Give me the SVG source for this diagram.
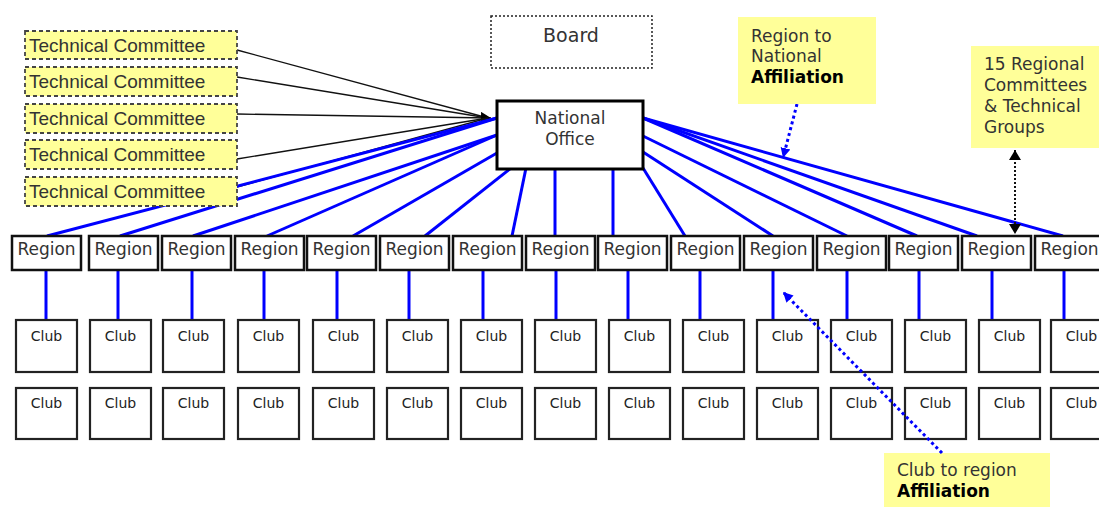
<svg xmlns="http://www.w3.org/2000/svg" width="1099" height="507" viewBox="0 0 1099 507">
<style>
.f{font-family:"DejaVu Sans",Verdana,sans-serif;fill:#333}
.tc rect{fill:#ffff99;stroke:#444;stroke-width:1.8;stroke-dasharray:4,3}
.tc text{font-family:"Liberation Sans",Arial,sans-serif;font-size:19px;fill:#333}
.reg rect{fill:#fff;stroke:#111;stroke-width:2.5}
.reg text{font-size:17px;text-anchor:middle}
.club rect{fill:#fff;stroke:#222;stroke-width:2.2}
.club text{font-size:14px;text-anchor:middle;fill:#222}
.note rect{fill:#ffff99;stroke:none}
.note text{font-size:17px}
.b{stroke:#0000ff;stroke-width:3;fill:none}
.k{stroke:#111;stroke-width:1.3;fill:none}
</style>
<defs>
<marker id="ak" markerUnits="userSpaceOnUse" markerWidth="12" markerHeight="12" refX="10" refY="6" orient="auto-start-reverse"><path d="M0,0 L10,6 L0,12 z" fill="#000"/></marker>
<marker id="ab" markerUnits="userSpaceOnUse" markerWidth="12" markerHeight="12" refX="10" refY="6" orient="auto-start-reverse"><path d="M0,1 L10,6 L0,11 z" fill="#0000ff"/></marker>
</defs>
<rect width="1099" height="507" fill="#fff"/>
<g id="connectors">
<line class="k" x1="237" y1="50" x2="488" y2="118"/>
<line class="k" x1="237" y1="77" x2="488" y2="118"/>
<line class="k" x1="237" y1="114" x2="491" y2="118" marker-end="url(#ak)"/>
<line class="k" x1="237" y1="159" x2="488" y2="118"/>
<line class="k" x1="237" y1="187" x2="488" y2="118"/>
<line class="b" x1="497" y1="118" x2="47" y2="236"/>
<line class="b" x1="497" y1="118" x2="120" y2="236"/>
<line class="b" x1="497" y1="135" x2="193" y2="236"/>
<line class="b" x1="497" y1="135" x2="267" y2="236"/>
<line class="b" x1="497" y1="153" x2="353" y2="236"/>
<line class="b" x1="511" y1="168" x2="425" y2="236"/>
<line class="b" x1="526" y1="168" x2="512" y2="236"/>
<line class="b" x1="555" y1="168" x2="555" y2="236"/>
<line class="b" x1="613" y1="168" x2="613" y2="236" stroke-width="3.5"/>
<line class="b" x1="643" y1="168" x2="685" y2="236"/>
<line class="b" x1="643" y1="152" x2="773" y2="236"/>
<line class="b" x1="643" y1="136" x2="847" y2="236"/>
<line class="b" x1="643" y1="118" x2="917" y2="236" stroke="#4a4aee"/>
<line class="b" x1="643" y1="118" x2="977" y2="236"/>
<line class="b" x1="643" y1="118" x2="1063" y2="236"/>
<line class="b" x1="46" y1="270" x2="46" y2="320" stroke-width="4.5"/>
<line class="b" x1="118" y1="270" x2="118" y2="320"/>
<line class="b" x1="192" y1="270" x2="192" y2="320" stroke-width="3.5"/>
<line class="b" x1="264" y1="270" x2="264" y2="320"/>
<line class="b" x1="337" y1="270" x2="337" y2="320" stroke-width="3.5"/>
<line class="b" x1="409" y1="270" x2="409" y2="320" stroke-width="4.5"/>
<line class="b" x1="483" y1="270" x2="483" y2="320"/>
<line class="b" x1="556" y1="270" x2="556" y2="320" stroke-width="3.5"/>
<line class="b" x1="628" y1="270" x2="628" y2="320"/>
<line class="b" x1="700" y1="270" x2="700" y2="320"/>
<line class="b" x1="773" y1="270" x2="773" y2="320" stroke-width="4.5"/>
<line class="b" x1="847" y1="270" x2="847" y2="320"/>
<line class="b" x1="919" y1="270" x2="919" y2="320" stroke-width="3.5"/>
<line class="b" x1="992" y1="270" x2="992" y2="320"/>
<line class="b" x1="1064" y1="270" x2="1064" y2="320"/>
<line class="b" x1="797" y1="104" x2="783" y2="158" stroke-dasharray="3,3" marker-end="url(#ab)"/>
<line x1="1015" y1="150" x2="1015" y2="234" stroke="#111" stroke-width="2" stroke-dasharray="2,2" marker-start="url(#ak)" marker-end="url(#ak)"/>
</g>
<g id="tc1" class="tc"><rect x="25" y="31" width="212" height="28"/><text x="29" y="52">Technical Committee</text></g>
<g id="tc2" class="tc"><rect x="25" y="67" width="212" height="29"/><text x="29" y="88">Technical Committee</text></g>
<g id="tc3" class="tc"><rect x="25" y="104" width="212" height="29"/><text x="29" y="125">Technical Committee</text></g>
<g id="tc4" class="tc"><rect x="25" y="140" width="212" height="29"/><text x="29" y="161">Technical Committee</text></g>
<g id="tc5" class="tc"><rect x="25" y="177" width="212" height="29"/><text x="29" y="198">Technical Committee</text></g>
<g id="board"><rect x="491" y="16" width="161" height="52" fill="#fff" stroke="#222" stroke-width="1.5" stroke-dasharray="2,2"/><text class="f" x="571" y="42" font-size="19" text-anchor="middle">Board</text></g>
<g id="national"><rect x="497" y="101" width="146" height="68" fill="#fff" stroke="#000" stroke-width="3"/><text class="f" x="570" y="124" font-size="17" text-anchor="middle">National</text><text class="f" x="570" y="145" font-size="17" text-anchor="middle">Office</text></g>
<g class="f">
<g id="r0" class="reg"><rect x="12" y="236" width="69" height="34"/><text x="46.5" y="255">Region</text></g>
<g id="r1" class="reg"><rect x="89" y="236" width="69" height="34"/><text x="123.5" y="255">Region</text></g>
<g id="r2" class="reg"><rect x="162" y="236" width="69" height="34"/><text x="196.5" y="255">Region</text></g>
<g id="r3" class="reg"><rect x="235" y="236" width="69" height="34"/><text x="269.5" y="255">Region</text></g>
<g id="r4" class="reg"><rect x="307" y="236" width="69" height="34"/><text x="341.5" y="255">Region</text></g>
<g id="r5" class="reg"><rect x="380" y="236" width="69" height="34"/><text x="414.5" y="255">Region</text></g>
<g id="r6" class="reg"><rect x="453" y="236" width="69" height="34"/><text x="487.5" y="255">Region</text></g>
<g id="r7" class="reg"><rect x="526" y="236" width="69" height="34"/><text x="560.5" y="255">Region</text></g>
<g id="r8" class="reg"><rect x="598" y="236" width="69" height="34"/><text x="632.5" y="255">Region</text></g>
<g id="r9" class="reg"><rect x="671" y="236" width="69" height="34"/><text x="705.5" y="255">Region</text></g>
<g id="r10" class="reg"><rect x="744" y="236" width="69" height="34"/><text x="778.5" y="255">Region</text></g>
<g id="r11" class="reg"><rect x="817" y="236" width="69" height="34"/><text x="851.5" y="255">Region</text></g>
<g id="r12" class="reg"><rect x="889" y="236" width="69" height="34"/><text x="923.5" y="255">Region</text></g>
<g id="r13" class="reg"><rect x="962" y="236" width="69" height="34"/><text x="996.5" y="255">Region</text></g>
<g id="r14" class="reg"><rect x="1035" y="236" width="69" height="34"/><text x="1069.5" y="255">Region</text></g>

<g id="c0a" class="club"><rect x="16" y="320" width="61" height="52"/><text x="46.5" y="341">Club</text></g>
<g id="c1a" class="club"><rect x="90" y="320" width="61" height="52"/><text x="120.5" y="341">Club</text></g>
<g id="c2a" class="club"><rect x="163" y="320" width="61" height="52"/><text x="193.5" y="341">Club</text></g>
<g id="c3a" class="club"><rect x="238" y="320" width="61" height="52"/><text x="268.5" y="341">Club</text></g>
<g id="c4a" class="club"><rect x="313" y="320" width="61" height="52"/><text x="343.5" y="341">Club</text></g>
<g id="c5a" class="club"><rect x="387" y="320" width="61" height="52"/><text x="417.5" y="341">Club</text></g>
<g id="c6a" class="club"><rect x="461" y="320" width="61" height="52"/><text x="491.5" y="341">Club</text></g>
<g id="c7a" class="club"><rect x="535" y="320" width="61" height="52"/><text x="565.5" y="341">Club</text></g>
<g id="c8a" class="club"><rect x="609" y="320" width="61" height="52"/><text x="639.5" y="341">Club</text></g>
<g id="c9a" class="club"><rect x="683" y="320" width="61" height="52"/><text x="713.5" y="341">Club</text></g>
<g id="c10a" class="club"><rect x="757" y="320" width="61" height="52"/><text x="787.5" y="341">Club</text></g>
<g id="c11a" class="club"><rect x="831" y="320" width="61" height="52"/><text x="861.5" y="341">Club</text></g>
<g id="c12a" class="club"><rect x="905" y="320" width="61" height="52"/><text x="935.5" y="341">Club</text></g>
<g id="c13a" class="club"><rect x="979" y="320" width="61" height="52"/><text x="1009.5" y="341">Club</text></g>
<g id="c14a" class="club"><rect x="1051" y="320" width="61" height="52"/><text x="1081.5" y="341">Club</text></g>

<g id="c0b" class="club"><rect x="16" y="388" width="61" height="51"/><text x="46.5" y="408">Club</text></g>
<g id="c1b" class="club"><rect x="90" y="388" width="61" height="51"/><text x="120.5" y="408">Club</text></g>
<g id="c2b" class="club"><rect x="163" y="388" width="61" height="51"/><text x="193.5" y="408">Club</text></g>
<g id="c3b" class="club"><rect x="238" y="388" width="61" height="51"/><text x="268.5" y="408">Club</text></g>
<g id="c4b" class="club"><rect x="313" y="388" width="61" height="51"/><text x="343.5" y="408">Club</text></g>
<g id="c5b" class="club"><rect x="387" y="388" width="61" height="51"/><text x="417.5" y="408">Club</text></g>
<g id="c6b" class="club"><rect x="461" y="388" width="61" height="51"/><text x="491.5" y="408">Club</text></g>
<g id="c7b" class="club"><rect x="535" y="388" width="61" height="51"/><text x="565.5" y="408">Club</text></g>
<g id="c8b" class="club"><rect x="609" y="388" width="61" height="51"/><text x="639.5" y="408">Club</text></g>
<g id="c9b" class="club"><rect x="683" y="388" width="61" height="51"/><text x="713.5" y="408">Club</text></g>
<g id="c10b" class="club"><rect x="757" y="388" width="61" height="51"/><text x="787.5" y="408">Club</text></g>
<g id="c11b" class="club"><rect x="831" y="388" width="61" height="51"/><text x="861.5" y="408">Club</text></g>
<g id="c12b" class="club"><rect x="905" y="388" width="61" height="51"/><text x="935.5" y="408">Club</text></g>
<g id="c13b" class="club"><rect x="979" y="388" width="61" height="51"/><text x="1009.5" y="408">Club</text></g>
<g id="c14b" class="club"><rect x="1051" y="388" width="61" height="51"/><text x="1081.5" y="408">Club</text></g>

<g id="note-region" class="note"><rect x="738" y="17" width="138" height="87"/><text x="751" y="42">Region to</text><text x="751" y="62">National</text><text x="751" y="83" font-weight="bold" fill="#000">Affiliation</text></g>
<g id="note-15" class="note"><rect x="971" y="46" width="128" height="102"/><text x="984" y="70">15 Regional</text><text x="984" y="91">Committees</text><text x="984" y="112">&amp; Technical</text><text x="984" y="133">Groups</text></g>
<g id="note-club" class="note"><rect x="884" y="453" width="166" height="54"/><text x="897" y="476">Club to region</text><text x="897" y="497" font-weight="bold" fill="#000">Affiliation</text></g>
</g>
<g id="connectors-over">
<line class="b" x1="942" y1="453" x2="783" y2="292" stroke-dasharray="3,3" marker-end="url(#ab)"/>
</g>
</svg>
